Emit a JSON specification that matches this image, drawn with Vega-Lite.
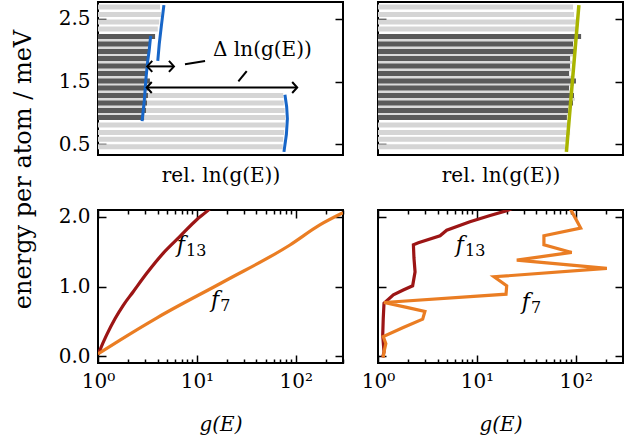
{
  "$schema": "https://vega.github.io/schema/vega-lite/v6.json",
  "background": "white",
  "padding": {"left": 10, "top": 1, "right": 0, "bottom": 0},
  "config": {
    "font": "DejaVu Serif",
    "view": {"stroke": "black", "strokeWidth": 2},
    "style": {
      "guide-label": {"font": "DejaVu Serif", "fill": "black"},
      "guide-title": {"font": "DejaVu Serif", "fill": "black"}
    },
    "axis": {
      "domain": false,
      "grid": false,
      "tickColor": "black",
      "tickWidth": 1.5,
      "labelFont": "DejaVu Serif",
      "labelFontSize": 20,
      "labelColor": "black",
      "labelFlush": false,
      "labelOverlap": false,
      "titleFont": "DejaVu Serif",
      "titleFontSize": 20,
      "titleFontWeight": "normal",
      "titleColor": "black"
    },
    "text": {"font": "DejaVu Serif", "color": "black"}
  },
  "datasets": {
    "tl_bars": [
      {"E": 2.69, "v": 25.3, "kind": "light"},
      {"E": 2.57, "v": 25.7, "kind": "light"},
      {"E": 2.45, "v": 25.0, "kind": "light"},
      {"E": 2.34, "v": 24.4, "kind": "light"},
      {"E": 2.22, "v": 22.4, "kind": "light"},
      {"E": 2.10, "v": 20.6, "kind": "light"},
      {"E": 1.98, "v": 20.2, "kind": "light"},
      {"E": 1.87, "v": 19.8, "kind": "light"},
      {"E": 1.75, "v": 19.8, "kind": "light"},
      {"E": 1.63, "v": 19.4, "kind": "light"},
      {"E": 1.51, "v": 20.6, "kind": "light"},
      {"E": 1.40, "v": 19.8, "kind": "light"},
      {"E": 1.28, "v": 75.6, "kind": "light"},
      {"E": 1.16, "v": 75.8, "kind": "light"},
      {"E": 1.04, "v": 76.2, "kind": "light"},
      {"E": 0.93, "v": 76.4, "kind": "light"},
      {"E": 0.81, "v": 76.3, "kind": "light"},
      {"E": 0.69, "v": 76.0, "kind": "light"},
      {"E": 0.58, "v": 75.6, "kind": "light"},
      {"E": 0.46, "v": 75.4, "kind": "light"},
      {"E": 2.16, "v": 21.0, "kind": "mid"},
      {"E": 2.04, "v": 20.6, "kind": "mid"},
      {"E": 1.925, "v": 20.4, "kind": "mid"},
      {"E": 1.81, "v": 20.2, "kind": "mid"},
      {"E": 1.69, "v": 19.8, "kind": "mid"},
      {"E": 1.57, "v": 20.2, "kind": "mid"},
      {"E": 1.455, "v": 20.6, "kind": "mid"},
      {"E": 1.34, "v": 20.2, "kind": "mid"},
      {"E": 1.22, "v": 20.0, "kind": "mid"},
      {"E": 1.10, "v": 19.6, "kind": "mid"},
      {"E": 0.985, "v": 19.0, "kind": "mid"},
      {"E": 2.22, "v": 23.3, "kind": "dark"},
      {"E": 2.10, "v": 21.2, "kind": "dark"},
      {"E": 1.98, "v": 20.8, "kind": "dark"},
      {"E": 1.87, "v": 20.4, "kind": "dark"},
      {"E": 1.75, "v": 20.4, "kind": "dark"},
      {"E": 1.63, "v": 20.0, "kind": "dark"},
      {"E": 1.51, "v": 21.2, "kind": "dark"},
      {"E": 1.40, "v": 20.4, "kind": "dark"},
      {"E": 1.28, "v": 20.4, "kind": "dark"},
      {"E": 1.16, "v": 20.0, "kind": "dark"},
      {"E": 1.04, "v": 19.6, "kind": "dark"},
      {"E": 0.93, "v": 18.8, "kind": "dark"}
    ],
    "tr_bars": [
      {"E": 2.69, "v": 79.6, "kind": "light"},
      {"E": 2.57, "v": 80.0, "kind": "light"},
      {"E": 2.45, "v": 80.8, "kind": "light"},
      {"E": 2.34, "v": 81.6, "kind": "light"},
      {"E": 2.22, "v": 82.0, "kind": "light"},
      {"E": 2.10, "v": 79.0, "kind": "light"},
      {"E": 1.98, "v": 80.2, "kind": "light"},
      {"E": 1.87, "v": 78.0, "kind": "light"},
      {"E": 1.75, "v": 78.0, "kind": "light"},
      {"E": 1.63, "v": 77.6, "kind": "light"},
      {"E": 1.51, "v": 80.2, "kind": "light"},
      {"E": 1.40, "v": 77.6, "kind": "light"},
      {"E": 1.28, "v": 79.4, "kind": "light"},
      {"E": 1.16, "v": 79.0, "kind": "light"},
      {"E": 1.04, "v": 77.0, "kind": "light"},
      {"E": 0.93, "v": 76.6, "kind": "light"},
      {"E": 0.81, "v": 78.4, "kind": "light"},
      {"E": 0.69, "v": 78.4, "kind": "light"},
      {"E": 0.58, "v": 77.1, "kind": "light"},
      {"E": 0.46, "v": 76.3, "kind": "light"},
      {"E": 2.16, "v": 81.2, "kind": "mid"},
      {"E": 2.04, "v": 81.2, "kind": "mid"},
      {"E": 1.925, "v": 80.4, "kind": "mid"},
      {"E": 1.81, "v": 79.2, "kind": "mid"},
      {"E": 1.69, "v": 78.8, "kind": "mid"},
      {"E": 1.57, "v": 79.6, "kind": "mid"},
      {"E": 1.455, "v": 80.0, "kind": "mid"},
      {"E": 1.34, "v": 79.2, "kind": "mid"},
      {"E": 1.22, "v": 80.4, "kind": "mid"},
      {"E": 1.10, "v": 79.2, "kind": "mid"},
      {"E": 0.985, "v": 78.0, "kind": "mid"},
      {"E": 2.22, "v": 82.9, "kind": "dark"},
      {"E": 2.10, "v": 79.6, "kind": "dark"},
      {"E": 1.98, "v": 80.8, "kind": "dark"},
      {"E": 1.87, "v": 78.4, "kind": "dark"},
      {"E": 1.75, "v": 78.4, "kind": "dark"},
      {"E": 1.63, "v": 78.0, "kind": "dark"},
      {"E": 1.51, "v": 80.8, "kind": "dark"},
      {"E": 1.40, "v": 78.0, "kind": "dark"},
      {"E": 1.28, "v": 80.0, "kind": "dark"},
      {"E": 1.16, "v": 79.6, "kind": "dark"},
      {"E": 1.04, "v": 77.6, "kind": "dark"},
      {"E": 0.93, "v": 77.1, "kind": "dark"}
    ],
    "tl_curves": [
      {"c": "upper", "E": 2.72, "v": 26.9},
      {"c": "upper", "E": 2.40, "v": 25.9},
      {"c": "upper", "E": 2.10, "v": 25.0},
      {"c": "upper", "E": 1.83, "v": 24.4},
      {"c": "middle", "E": 2.23, "v": 21.5},
      {"c": "middle", "E": 2.00, "v": 20.9},
      {"c": "middle", "E": 1.83, "v": 20.3},
      {"c": "middle", "E": 1.56, "v": 19.6},
      {"c": "middle", "E": 1.20, "v": 18.9},
      {"c": "middle", "E": 0.87, "v": 18.0},
      {"c": "lower", "E": 1.29, "v": 76.3},
      {"c": "lower", "E": 1.10, "v": 77.0},
      {"c": "lower", "E": 0.91, "v": 77.3},
      {"c": "lower", "E": 0.66, "v": 76.9},
      {"c": "lower", "E": 0.38, "v": 75.9}
    ],
    "tr_line": [
      {"E": 2.72, "v": 82.0},
      {"E": 1.53, "v": 79.4},
      {"E": 0.38, "v": 76.9}
    ],
    "arrows": [
      {"E": 1.743, "v": 20.1, "v2": 31.0},
      {"E": 1.406, "v": 19.9, "v2": 81.3}
    ],
    "heads": [
      {"E": 1.743, "v": 20.1, "dir": "l"},
      {"E": 1.743, "v": 31.0, "dir": "r"},
      {"E": 1.406, "v": 19.9, "dir": "l"},
      {"E": 1.406, "v": 81.3, "dir": "r"}
    ],
    "leaders": [
      {"E": 1.779, "v": 35.5, "E2": 1.828, "v2": 43.7},
      {"E": 1.504, "v": 57.3, "E2": 1.669, "v2": 60.7}
    ],
    "tl_note": [{"E": 2.01, "v": 67.1, "t": "Δ ln(g(E))"}],
    "bl_lines": [
      {"s": "f13", "i": 0, "g": 1.0, "E": 0.02},
      {"s": "f13", "i": 1, "g": 1.048, "E": 0.09},
      {"s": "f13", "i": 2, "g": 1.22, "E": 0.30},
      {"s": "f13", "i": 3, "g": 1.49, "E": 0.54},
      {"s": "f13", "i": 4, "g": 1.80, "E": 0.73},
      {"s": "f13", "i": 5, "g": 2.27, "E": 0.925},
      {"s": "f13", "i": 6, "g": 3.11, "E": 1.19},
      {"s": "f13", "i": 7, "g": 4.57, "E": 1.48},
      {"s": "f13", "i": 8, "g": 6.74, "E": 1.72},
      {"s": "f13", "i": 9, "g": 9.94, "E": 1.96},
      {"s": "f13", "i": 10, "g": 12.6, "E": 2.08},
      {"s": "f13", "i": 11, "g": 14.0, "E": 2.14},
      {"s": "f7", "i": 0, "g": 1.0, "E": 0.03},
      {"s": "f7", "i": 1, "g": 1.67, "E": 0.23},
      {"s": "f7", "i": 2, "g": 3.95, "E": 0.55},
      {"s": "f7", "i": 3, "g": 18.4, "E": 1.065},
      {"s": "f7", "i": 4, "g": 87.3, "E": 1.597},
      {"s": "f7", "i": 5, "g": 175, "E": 1.885},
      {"s": "f7", "i": 6, "g": 300, "E": 2.06}
    ],
    "br_lines": [
      {"s": "f13", "i": 0, "g": 1.116, "E": -0.02},
      {"s": "f13", "i": 1, "g": 1.15, "E": 0.06},
      {"s": "f13", "i": 2, "g": 1.116, "E": 0.30},
      {"s": "f13", "i": 3, "g": 1.13, "E": 0.54},
      {"s": "f13", "i": 4, "g": 1.15, "E": 0.76},
      {"s": "f13", "i": 5, "g": 1.43, "E": 0.88},
      {"s": "f13", "i": 6, "g": 1.80, "E": 0.95},
      {"s": "f13", "i": 7, "g": 2.24, "E": 1.01},
      {"s": "f13", "i": 8, "g": 2.37, "E": 1.21},
      {"s": "f13", "i": 9, "g": 2.31, "E": 1.41},
      {"s": "f13", "i": 10, "g": 2.28, "E": 1.60},
      {"s": "f13", "i": 11, "g": 2.56, "E": 1.63},
      {"s": "f13", "i": 12, "g": 4.24, "E": 1.73},
      {"s": "f13", "i": 13, "g": 4.95, "E": 1.81},
      {"s": "f13", "i": 14, "g": 8.5, "E": 1.93},
      {"s": "f13", "i": 15, "g": 13.6, "E": 2.02},
      {"s": "f13", "i": 16, "g": 20.0, "E": 2.09},
      {"s": "f13", "i": 17, "g": 22.6, "E": 2.12},
      {"s": "f7", "i": 0, "g": 1.13, "E": -0.02},
      {"s": "f7", "i": 1, "g": 1.15, "E": 0.06},
      {"s": "f7", "i": 2, "g": 1.20, "E": 0.18},
      {"s": "f7", "i": 3, "g": 1.13, "E": 0.28},
      {"s": "f7", "i": 4, "g": 1.80, "E": 0.41},
      {"s": "f7", "i": 5, "g": 2.83, "E": 0.53},
      {"s": "f7", "i": 6, "g": 2.98, "E": 0.64},
      {"s": "f7", "i": 7, "g": 1.95, "E": 0.70},
      {"s": "f7", "i": 8, "g": 1.15, "E": 0.77},
      {"s": "f7", "i": 9, "g": 19.7, "E": 0.89},
      {"s": "f7", "i": 10, "g": 20.0, "E": 1.01},
      {"s": "f7", "i": 11, "g": 14.9, "E": 1.14},
      {"s": "f7", "i": 12, "g": 206, "E": 1.26},
      {"s": "f7", "i": 13, "g": 25.3, "E": 1.38},
      {"s": "f7", "i": 14, "g": 90.9, "E": 1.49},
      {"s": "f7", "i": 15, "g": 47.6, "E": 1.60},
      {"s": "f7", "i": 16, "g": 47.6, "E": 1.73},
      {"s": "f7", "i": 17, "g": 112, "E": 1.84},
      {"s": "f7", "i": 18, "g": 90.9, "E": 2.08},
      {"s": "f7", "i": 19, "g": 87.5, "E": 2.12}
    ],
    "bl_notes": [
      {"g": 7.58, "E": 1.60, "f": "f", "sub": "13"},
      {"g": 16.8, "E": 0.806, "f": "f", "sub": "7"}
    ],
    "br_notes": [
      {"g": 7.4, "E": 1.60, "f": "f", "sub": "13"},
      {"g": 34.4, "E": 0.78, "f": "f", "sub": "7"}
    ],
    "top_frame": [{"v": 50, "E": 1.5}],
    "bottom_frame": [{"g": 10, "E": 1}]
  },
  "columns": 2,
  "bounds": "flush",
  "spacing": {"row": 55, "column": 35},
  "concat": [
    {
      "width": 245,
      "height": 153,
      "resolve": {"axis": {"x": "independent", "y": "independent"}},
      "layer": [
        {
          "data": {"name": "tl_bars"},
          "transform": [{"filter": "datum.kind == 'light'"}],
          "mark": {"type": "bar", "orient": "horizontal", "size": 5, "color": "#d5d5d5", "clip": true},
          "encoding": {
            "x": {"field": "v", "type": "quantitative", "scale": {"domain": [0, 100], "nice": false}, "axis": null},
            "y": {"field": "E", "type": "quantitative", "scale": {"domain": [0.41, 2.69], "nice": false, "zero": false}, "axis": null}
          }
        },
        {
          "data": {"name": "tl_bars"},
          "transform": [{"filter": "datum.kind == 'mid'"}],
          "mark": {"type": "bar", "orient": "horizontal", "size": 3, "color": "#dadada", "clip": true},
          "encoding": {
            "x": {"field": "v", "type": "quantitative", "scale": {"domain": [0, 100], "nice": false}, "axis": null},
            "y": {"field": "E", "type": "quantitative", "scale": {"domain": [0.41, 2.69], "nice": false, "zero": false}, "axis": null}
          }
        },
        {
          "data": {"name": "tl_bars"},
          "transform": [{"filter": "datum.kind == 'dark'"}],
          "mark": {"type": "bar", "orient": "horizontal", "size": 5, "color": "#5a5a5a", "clip": true},
          "encoding": {
            "x": {"field": "v", "type": "quantitative", "scale": {"domain": [0, 100], "nice": false}, "axis": null},
            "y": {"field": "E", "type": "quantitative", "scale": {"domain": [0.41, 2.69], "nice": false, "zero": false}, "axis": null}
          }
        },
        {
          "data": {"name": "tl_curves"},
          "mark": {"type": "line", "color": "#1766c8", "strokeWidth": 3, "clip": true},
          "encoding": {
            "x": {"field": "v", "type": "quantitative", "scale": {"domain": [0, 100], "nice": false}, "axis": null},
            "y": {"field": "E", "type": "quantitative", "scale": {"domain": [0.41, 2.69], "nice": false, "zero": false}, "axis": null},
            "detail": {"field": "c"},
            "order": {"field": "E"}
          }
        },
        {
          "data": {"name": "arrows"},
          "mark": {"type": "rule", "color": "black", "strokeWidth": 2},
          "encoding": {
            "x": {"field": "v", "type": "quantitative", "scale": {"domain": [0, 100], "nice": false}, "axis": null},
            "x2": {"field": "v2"},
            "y": {"field": "E", "type": "quantitative", "scale": {"domain": [0.41, 2.69], "nice": false, "zero": false}, "axis": null}
          }
        },
        {
          "data": {"name": "heads"},
          "mark": {"type": "point", "filled": false, "stroke": "black", "strokeWidth": 2, "size": 100, "opacity": 1},
          "encoding": {
            "x": {"field": "v", "type": "quantitative", "scale": {"domain": [0, 100], "nice": false}, "axis": null},
            "y": {"field": "E", "type": "quantitative", "scale": {"domain": [0.41, 2.69], "nice": false, "zero": false}, "axis": null},
            "shape": {"field": "dir", "type": "nominal", "scale": {"domain": ["l", "r"], "range": ["M1,-1.1L0,0L1,1.1", "M-1,-1.1L0,0L-1,1.1"]}, "legend": null}
          }
        },
        {
          "data": {"name": "leaders"},
          "mark": {"type": "rule", "color": "black", "strokeWidth": 2},
          "encoding": {
            "x": {"field": "v", "type": "quantitative", "scale": {"domain": [0, 100], "nice": false}, "axis": null},
            "x2": {"field": "v2"},
            "y": {"field": "E", "type": "quantitative", "scale": {"domain": [0.41, 2.69], "nice": false, "zero": false}, "axis": null},
            "y2": {"field": "E2"}
          }
        },
        {
          "data": {"name": "tl_note"},
          "mark": {"type": "text", "fontSize": 20, "align": "center", "baseline": "middle"},
          "encoding": {
            "x": {"field": "v", "type": "quantitative", "scale": {"domain": [0, 100], "nice": false}, "axis": null},
            "y": {"field": "E", "type": "quantitative", "scale": {"domain": [0.41, 2.69], "nice": false, "zero": false}, "axis": null},
            "text": {"field": "t"}
          }
        },
        {
          "data": {"name": "top_frame"},
          "mark": {"type": "point", "opacity": 0},
          "encoding": {
            "x": {"field": "v", "type": "quantitative", "scale": {"domain": [0, 100], "nice": false},
                  "axis": {"orient": "bottom", "ticks": false, "labels": false, "title": "rel. ln(g(E))", "titlePadding": 10}},
            "y": {"field": "E", "type": "quantitative", "scale": {"domain": [0.41, 2.69], "nice": false, "zero": false},
                  "axis": {"orient": "left", "values": [0.5, 1.5, 2.5], "format": ".1f", "tickSize": -8, "labelPadding": 16,
                           "labelFont": "DejaVu Serif",
                           "title": "energy per atom / meV", "titleFontSize": 24, "titleX": -75, "titleY": 167, "titleAngle": -90,
                           "titleAlign": "center", "titleBaseline": "middle"}}
          }
        },
        {
          "data": {"name": "top_frame"},
          "mark": {"type": "point", "opacity": 0},
          "encoding": {
            "x": {"field": "v", "type": "quantitative", "scale": {"domain": [0, 100], "nice": false}, "axis": null},
            "y": {"field": "E", "type": "quantitative", "scale": {"domain": [0.41, 2.69], "nice": false, "zero": false},
                  "axis": {"orient": "right", "values": [0.5, 1.5, 2.5], "labels": false, "tickSize": -8, "title": null}}
          }
        }
      ]
    },
    {
      "width": 245,
      "height": 153,
      "resolve": {"axis": {"x": "independent", "y": "independent"}},
      "layer": [
        {
          "data": {"name": "tr_bars"},
          "transform": [{"filter": "datum.kind == 'light'"}],
          "mark": {"type": "bar", "orient": "horizontal", "size": 5, "color": "#d5d5d5", "clip": true},
          "encoding": {
            "x": {"field": "v", "type": "quantitative", "scale": {"domain": [0, 100], "nice": false}, "axis": null},
            "y": {"field": "E", "type": "quantitative", "scale": {"domain": [0.41, 2.69], "nice": false, "zero": false}, "axis": null}
          }
        },
        {
          "data": {"name": "tr_bars"},
          "transform": [{"filter": "datum.kind == 'mid'"}],
          "mark": {"type": "bar", "orient": "horizontal", "size": 3, "color": "#dadada", "clip": true},
          "encoding": {
            "x": {"field": "v", "type": "quantitative", "scale": {"domain": [0, 100], "nice": false}, "axis": null},
            "y": {"field": "E", "type": "quantitative", "scale": {"domain": [0.41, 2.69], "nice": false, "zero": false}, "axis": null}
          }
        },
        {
          "data": {"name": "tr_bars"},
          "transform": [{"filter": "datum.kind == 'dark'"}],
          "mark": {"type": "bar", "orient": "horizontal", "size": 5, "color": "#5a5a5a", "clip": true},
          "encoding": {
            "x": {"field": "v", "type": "quantitative", "scale": {"domain": [0, 100], "nice": false}, "axis": null},
            "y": {"field": "E", "type": "quantitative", "scale": {"domain": [0.41, 2.69], "nice": false, "zero": false}, "axis": null}
          }
        },
        {
          "data": {"name": "tr_line"},
          "mark": {"type": "line", "color": "#a9b400", "strokeWidth": 3.5, "clip": true},
          "encoding": {
            "x": {"field": "v", "type": "quantitative", "scale": {"domain": [0, 100], "nice": false}, "axis": null},
            "y": {"field": "E", "type": "quantitative", "scale": {"domain": [0.41, 2.69], "nice": false, "zero": false}, "axis": null},
            "order": {"field": "E"}
          }
        },
        {
          "data": {"name": "top_frame"},
          "mark": {"type": "point", "opacity": 0},
          "encoding": {
            "x": {"field": "v", "type": "quantitative", "scale": {"domain": [0, 100], "nice": false},
                  "axis": {"orient": "bottom", "ticks": false, "labels": false, "title": "rel. ln(g(E))", "titlePadding": 10}},
            "y": {"field": "E", "type": "quantitative", "scale": {"domain": [0.41, 2.69], "nice": false, "zero": false},
                  "axis": {"orient": "left", "values": [0.5, 1.5, 2.5], "labels": false, "tickSize": -8, "title": null}}
          }
        },
        {
          "data": {"name": "top_frame"},
          "mark": {"type": "point", "opacity": 0},
          "encoding": {
            "x": {"field": "v", "type": "quantitative", "scale": {"domain": [0, 100], "nice": false}, "axis": null},
            "y": {"field": "E", "type": "quantitative", "scale": {"domain": [0.41, 2.69], "nice": false, "zero": false},
                  "axis": {"orient": "right", "values": [0.5, 1.5, 2.5], "labels": false, "tickSize": -8, "title": null}}
          }
        }
      ]
    },
    {
      "width": 245,
      "height": 153,
      "resolve": {"axis": {"x": "independent", "y": "independent"}},
      "layer": [
        {
          "data": {"name": "bl_lines"},
          "mark": {"type": "line", "strokeWidth": 3.2, "interpolate": "monotone", "clip": true},
          "encoding": {
            "x": {"field": "g", "type": "quantitative", "scale": {"type": "log", "domain": [1, 300], "nice": false}, "axis": null},
            "y": {"field": "E", "type": "quantitative", "scale": {"domain": [-0.1, 2.1], "nice": false, "zero": false}, "axis": null},
            "color": {"field": "s", "type": "nominal", "scale": {"domain": ["f13", "f7"], "range": ["#9c1515", "#ea7d23"]}, "legend": null},
            "order": {"field": "i"}
          }
        },
        {
          "data": {"name": "bl_notes"},
          "mark": {"type": "text", "fontSize": 22, "fontStyle": "italic", "align": "right", "baseline": "middle"},
          "encoding": {
            "x": {"field": "g", "type": "quantitative", "scale": {"type": "log", "domain": [1, 300], "nice": false}, "axis": null},
            "y": {"field": "E", "type": "quantitative", "scale": {"domain": [-0.1, 2.1], "nice": false, "zero": false}, "axis": null},
            "text": {"field": "f"}
          }
        },
        {
          "data": {"name": "bl_notes"},
          "mark": {"type": "text", "fontSize": 16, "align": "left", "baseline": "middle", "dx": 1, "dy": 6},
          "encoding": {
            "x": {"field": "g", "type": "quantitative", "scale": {"type": "log", "domain": [1, 300], "nice": false}, "axis": null},
            "y": {"field": "E", "type": "quantitative", "scale": {"domain": [-0.1, 2.1], "nice": false, "zero": false}, "axis": null},
            "text": {"field": "sub"}
          }
        },
        {
          "data": {"name": "bottom_frame"},
          "mark": {"type": "point", "opacity": 0},
          "encoding": {
            "x": {"field": "g", "type": "quantitative", "scale": {"type": "log", "domain": [1, 300], "nice": false},
                  "axis": {"orient": "bottom", "values": [1, 10, 100], "tickSize": -8, "labelPadding": 16,
                           "labelFont": "DejaVu Serif",
                           "labelExpr": "datum.value == 1 ? '10⁰' : datum.value == 10 ? '10¹' : '10²'",
                           "title": "g(E)", "titleFontStyle": "italic", "titlePadding": 23}},
            "y": {"field": "E", "type": "quantitative", "scale": {"domain": [-0.1, 2.1], "nice": false, "zero": false},
                  "axis": {"orient": "left", "values": [0, 1, 2], "format": ".1f", "tickSize": -8, "labelPadding": 16,
                           "labelFont": "DejaVu Serif", "title": null}}
          }
        },
        {
          "data": {"name": "bottom_frame"},
          "mark": {"type": "point", "opacity": 0},
          "encoding": {
            "x": {"field": "g", "type": "quantitative", "scale": {"type": "log", "domain": [1, 300], "nice": false},
                  "axis": {"orient": "bottom", "values": [2, 3, 4, 5, 6, 7, 8, 9, 20, 30, 40, 50, 60, 70, 80, 90, 200, 300], "labels": false, "tickSize": -4, "title": null}},
            "y": {"field": "E", "type": "quantitative", "scale": {"domain": [-0.1, 2.1], "nice": false, "zero": false},
                  "axis": {"orient": "right", "values": [0, 1, 2], "labels": false, "tickSize": -8, "title": null}}
          }
        },
        {
          "data": {"name": "bottom_frame"},
          "mark": {"type": "point", "opacity": 0},
          "encoding": {
            "x": {"field": "g", "type": "quantitative", "scale": {"type": "log", "domain": [1, 300], "nice": false},
                  "axis": {"orient": "top", "values": [1, 10, 100], "labels": false, "tickSize": -8, "title": null}},
            "y": {"field": "E", "type": "quantitative", "scale": {"domain": [-0.1, 2.1], "nice": false, "zero": false}, "axis": null}
          }
        },
        {
          "data": {"name": "bottom_frame"},
          "mark": {"type": "point", "opacity": 0},
          "encoding": {
            "x": {"field": "g", "type": "quantitative", "scale": {"type": "log", "domain": [1, 300], "nice": false},
                  "axis": {"orient": "top", "values": [2, 3, 4, 5, 6, 7, 8, 9, 20, 30, 40, 50, 60, 70, 80, 90, 200, 300], "labels": false, "tickSize": -4, "title": null}},
            "y": {"field": "E", "type": "quantitative", "scale": {"domain": [-0.1, 2.1], "nice": false, "zero": false}, "axis": null}
          }
        }
      ]
    },
    {
      "width": 245,
      "height": 153,
      "resolve": {"axis": {"x": "independent", "y": "independent"}},
      "layer": [
        {
          "data": {"name": "br_lines"},
          "mark": {"type": "line", "strokeWidth": 3.2, "clip": true},
          "encoding": {
            "x": {"field": "g", "type": "quantitative", "scale": {"type": "log", "domain": [1, 300], "nice": false}, "axis": null},
            "y": {"field": "E", "type": "quantitative", "scale": {"domain": [-0.1, 2.1], "nice": false, "zero": false}, "axis": null},
            "color": {"field": "s", "type": "nominal", "scale": {"domain": ["f13", "f7"], "range": ["#9c1515", "#ea7d23"]}, "legend": null},
            "order": {"field": "i"}
          }
        },
        {
          "data": {"name": "br_notes"},
          "mark": {"type": "text", "fontSize": 22, "fontStyle": "italic", "align": "right", "baseline": "middle"},
          "encoding": {
            "x": {"field": "g", "type": "quantitative", "scale": {"type": "log", "domain": [1, 300], "nice": false}, "axis": null},
            "y": {"field": "E", "type": "quantitative", "scale": {"domain": [-0.1, 2.1], "nice": false, "zero": false}, "axis": null},
            "text": {"field": "f"}
          }
        },
        {
          "data": {"name": "br_notes"},
          "mark": {"type": "text", "fontSize": 16, "align": "left", "baseline": "middle", "dx": 1, "dy": 6},
          "encoding": {
            "x": {"field": "g", "type": "quantitative", "scale": {"type": "log", "domain": [1, 300], "nice": false}, "axis": null},
            "y": {"field": "E", "type": "quantitative", "scale": {"domain": [-0.1, 2.1], "nice": false, "zero": false}, "axis": null},
            "text": {"field": "sub"}
          }
        },
        {
          "data": {"name": "bottom_frame"},
          "mark": {"type": "point", "opacity": 0},
          "encoding": {
            "x": {"field": "g", "type": "quantitative", "scale": {"type": "log", "domain": [1, 300], "nice": false},
                  "axis": {"orient": "bottom", "values": [1, 10, 100], "tickSize": -8, "labelPadding": 16,
                           "labelFont": "DejaVu Serif",
                           "labelExpr": "datum.value == 1 ? '10⁰' : datum.value == 10 ? '10¹' : '10²'",
                           "title": "g(E)", "titleFontStyle": "italic", "titlePadding": 23}},
            "y": {"field": "E", "type": "quantitative", "scale": {"domain": [-0.1, 2.1], "nice": false, "zero": false},
                  "axis": {"orient": "left", "values": [0, 1, 2], "labels": false, "tickSize": -8, "title": null}}
          }
        },
        {
          "data": {"name": "bottom_frame"},
          "mark": {"type": "point", "opacity": 0},
          "encoding": {
            "x": {"field": "g", "type": "quantitative", "scale": {"type": "log", "domain": [1, 300], "nice": false},
                  "axis": {"orient": "bottom", "values": [2, 3, 4, 5, 6, 7, 8, 9, 20, 30, 40, 50, 60, 70, 80, 90, 200, 300], "labels": false, "tickSize": -4, "title": null}},
            "y": {"field": "E", "type": "quantitative", "scale": {"domain": [-0.1, 2.1], "nice": false, "zero": false},
                  "axis": {"orient": "right", "values": [0, 1, 2], "labels": false, "tickSize": -8, "title": null}}
          }
        },
        {
          "data": {"name": "bottom_frame"},
          "mark": {"type": "point", "opacity": 0},
          "encoding": {
            "x": {"field": "g", "type": "quantitative", "scale": {"type": "log", "domain": [1, 300], "nice": false},
                  "axis": {"orient": "top", "values": [1, 10, 100], "labels": false, "tickSize": -8, "title": null}},
            "y": {"field": "E", "type": "quantitative", "scale": {"domain": [-0.1, 2.1], "nice": false, "zero": false}, "axis": null}
          }
        },
        {
          "data": {"name": "bottom_frame"},
          "mark": {"type": "point", "opacity": 0},
          "encoding": {
            "x": {"field": "g", "type": "quantitative", "scale": {"type": "log", "domain": [1, 300], "nice": false},
                  "axis": {"orient": "top", "values": [2, 3, 4, 5, 6, 7, 8, 9, 20, 30, 40, 50, 60, 70, 80, 90, 200, 300], "labels": false, "tickSize": -4, "title": null}},
            "y": {"field": "E", "type": "quantitative", "scale": {"domain": [-0.1, 2.1], "nice": false, "zero": false}, "axis": null}
          }
        }
      ]
    }
  ]
}
